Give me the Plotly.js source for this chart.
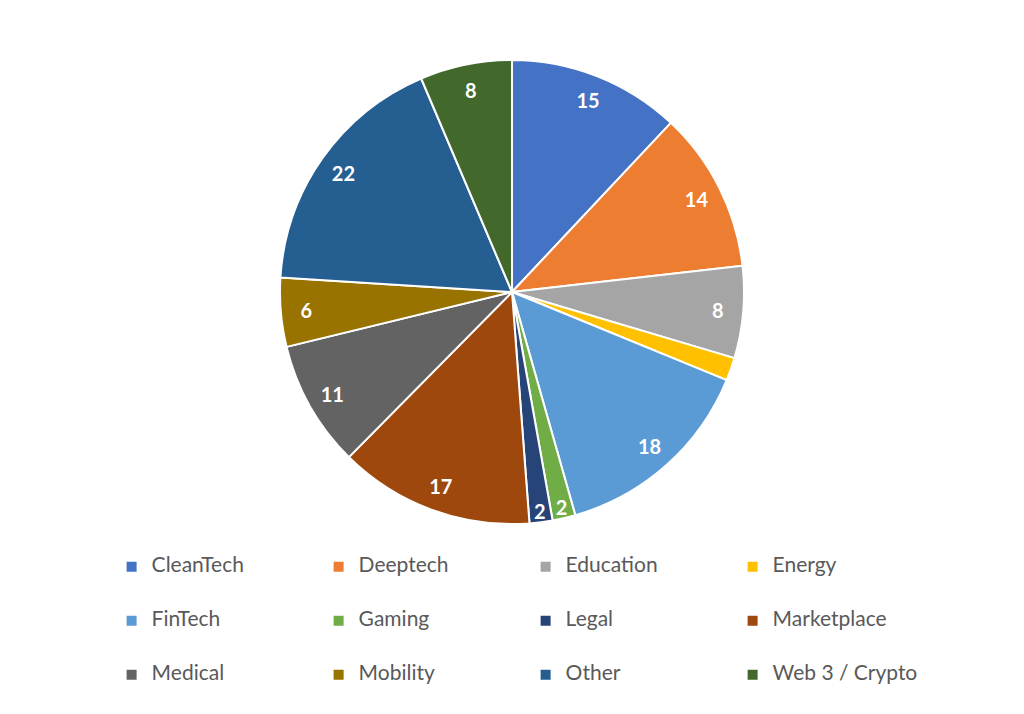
<!DOCTYPE html>
<html>
<head>
<meta charset="utf-8">
<script src="https://cdn.plot.ly/plotly-3.0.1.min.js"></script>
<style>
  html, body { margin: 0; padding: 0; background: #fff; }
  #chart { width: 1024px; height: 714px; }
</style>
</head>
<body>
<div id="chart"></div>
<script>
// deal counts per sector
const categories = ['CleanTech', 'Deeptech', 'Education', 'Energy', 'FinTech', 'Gaming',
                    'Legal', 'Marketplace', 'Medical', 'Mobility', 'Other', 'Web 3 / Crypto'];
const counts = [15, 14, 8, 2, 18, 2, 2, 17, 11, 6, 22, 8];
const colors = ['#4472C4', '#ED7D31', '#A5A5A5', '#FFC000', '#5B9BD5', '#70AD47',
                '#264478', '#9E480E', '#636363', '#997300', '#255E91', '#43682B'];
// the Energy slice carries no data label in the original
const hiddenLabels = ['Energy'];

// pad each legend entry with blank lines so the rows sit further apart
const legendText = categories.map(c => ' <br><span style="font-size:21px">' + c + '</span><br> ');
const pieDomain = { x: [0.2734, 0.7266], y: [0.266, 0.916] };

// the coloured pie, no text
const slices = {
  type: 'pie',
  labels: legendText,
  values: counts,
  sort: false,
  direction: 'clockwise',
  rotation: 0,
  marker: { colors: colors, line: { color: '#ffffff', width: 2 } },
  textinfo: 'none',
  hoverinfo: 'value',
  domain: pieDomain
};

// a see-through ring over it, only so the values sit near the outer edge
const valueRing = {
  type: 'pie',
  labels: legendText,
  values: counts,
  sort: false,
  direction: 'clockwise',
  rotation: 0,
  hole: 0.78,
  showlegend: false,
  marker: { colors: categories.map(() => 'rgba(0,0,0,0)'), line: { width: 0 } },
  texttemplate: categories.map(c => hiddenLabels.includes(c) ? '' : '%{value}'),
  textposition: 'inside',
  insidetextorientation: 'horizontal',
  textfont: { family: 'Lato, sans-serif', size: 20, color: '#ffffff', weight: 'bold' },
  hoverinfo: 'skip',
  domain: pieDomain
};

const layout = {
  width: 1024,
  height: 714,
  margin: { l: 0, r: 0, t: 0, b: 0, autoexpand: false },
  paper_bgcolor: '#ffffff',
  showlegend: true,
  uniformtext: { mode: 'show', minsize: 20 },
  legend: {
    orientation: 'h',
    x: 0.109,
    xanchor: 'left',
    y: 0.251,
    yanchor: 'top',
    entrywidth: 162,
    entrywidthmode: 'pixels',
    font: { family: 'Lato, sans-serif', size: 13.07, color: '#595959' }
  }
};

Plotly.newPlot('chart', [slices, valueRing], layout, { staticPlot: true });
</script>
</body>
</html>
